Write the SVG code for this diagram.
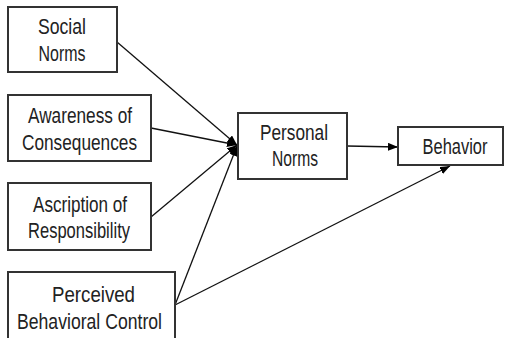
<svg xmlns="http://www.w3.org/2000/svg" width="505" height="338" viewBox="0 0 505 338">
<style>
.box{fill:#fff;stroke:#333;stroke-width:2}
.t{font-family:"Liberation Sans",Arial,sans-serif;font-size:21.5px;fill:#222;text-anchor:middle}
.c{fill:none;stroke:#111;stroke-width:1.3}
</style>
<defs>
<marker id="ah" viewBox="0 0 10 8" refX="10" refY="4" markerWidth="10" markerHeight="8" markerUnits="userSpaceOnUse" orient="auto">
<path d="M0,0 L10,4 L0,8 Z" fill="#000"/>
</marker>
</defs>
<rect width="505" height="338" fill="#fff"/>
<g id="connectors">
<line class="c" x1="117" y1="42" x2="237" y2="145" marker-end="url(#ah)"/>
<line class="c" x1="151" y1="128" x2="237" y2="145" marker-end="url(#ah)"/>
<line class="c" x1="151" y1="217" x2="237" y2="145" marker-end="url(#ah)"/>
<line class="c" x1="175" y1="305" x2="237" y2="146" marker-end="url(#ah)"/>
<line class="c" x1="175" y1="305" x2="450" y2="166" marker-end="url(#ah)"/>
<line class="c" x1="347" y1="146" x2="398" y2="147" marker-end="url(#ah)"/>
</g>
<g id="social-norms">
<rect class="box" x="8" y="7" width="109" height="65"/>
<text class="t" x="62" y="34" textLength="48" lengthAdjust="spacingAndGlyphs">Social</text>
<text class="t" x="62" y="61" textLength="47" lengthAdjust="spacingAndGlyphs">Norms</text>
</g>
<g id="awareness">
<rect class="box" x="8" y="95" width="143" height="66"/>
<text class="t" x="80" y="123" textLength="104" lengthAdjust="spacingAndGlyphs">Awareness of</text>
<text class="t" x="79.5" y="150" textLength="115" lengthAdjust="spacingAndGlyphs">Consequences</text>
</g>
<g id="ascription">
<rect class="box" x="8" y="183" width="143" height="67"/>
<text class="t" x="80" y="212" textLength="94" lengthAdjust="spacingAndGlyphs">Ascription of</text>
<text class="t" x="79" y="238" textLength="102" lengthAdjust="spacingAndGlyphs">Responsibility</text>
</g>
<g id="perceived">
<rect class="box" x="8" y="272" width="167" height="70"/>
<text class="t" x="93.5" y="302" textLength="83" lengthAdjust="spacingAndGlyphs">Perceived</text>
<text class="t" x="89.5" y="329" textLength="145" lengthAdjust="spacingAndGlyphs">Behavioral Control</text>
</g>
<g id="personal-norms">
<rect class="box" x="238" y="113" width="109" height="66"/>
<text class="t" x="294" y="140" textLength="68" lengthAdjust="spacingAndGlyphs">Personal</text>
<text class="t" x="295" y="166" textLength="46" lengthAdjust="spacingAndGlyphs">Norms</text>
</g>
<g id="behavior">
<rect class="box" x="398" y="127" width="105" height="38"/>
<text class="t" x="455" y="154" textLength="65" lengthAdjust="spacingAndGlyphs">Behavior</text>
</g>
</svg>
